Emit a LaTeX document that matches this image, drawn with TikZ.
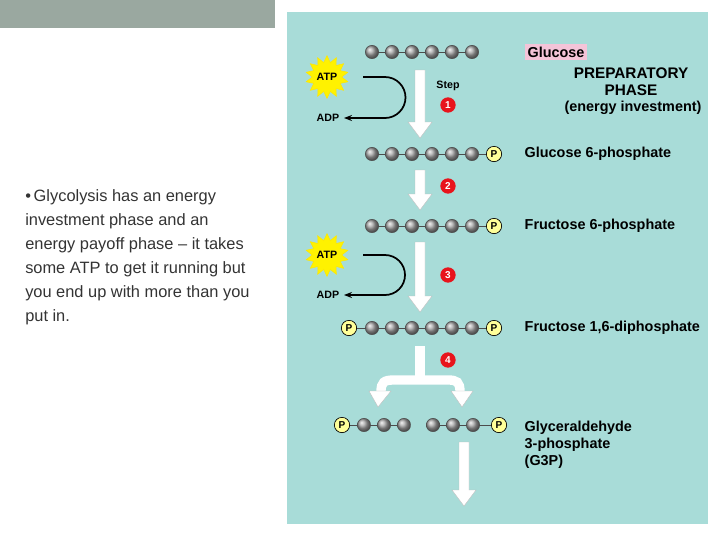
\documentclass[tikz,border=0pt]{standalone}
\usepackage{fontspec}
\setmainfont{Liberation Sans}
\usetikzlibrary{shapes.geometric,arrows.meta}
\definecolor{panel}{HTML}{A8DCD8}
\definecolor{topbar}{HTML}{9AA8A0}
\definecolor{pyel}{HTML}{FFFF99}
\definecolor{sred}{HTML}{E8141C}
\definecolor{pinkl}{HTML}{F4C4D8}
\definecolor{txt}{HTML}{333333}
\tikzset{
 ball/.style={circle,draw=black!70,line width=0.4pt,inner sep=0,minimum size=10pt,shading=ball,ball color=gray!70},
 phos/.style={circle,draw=black,line width=0.5pt,fill=pyel,inner sep=0,minimum size=11.5pt,font=\bfseries\fontsize{7.5}{7.5}\selectfont},
 lab/.style={anchor=west,font=\bfseries\fontsize{10.8}{13}\selectfont},
 stepnum/.style={circle,fill=sred,text=white,inner sep=0,minimum size=11.5pt,font=\bfseries\fontsize{7.5}{7.5}\selectfont},
 atp/.style={star,star points=14,star point ratio=1.45,fill=yellow,draw=yellow!90!orange,minimum size=32pt,inner sep=0,font=\bfseries\fontsize{8}{8}\selectfont},
 small/.style={font=\bfseries\fontsize{8}{8}\selectfont},
 link/.style={black!70,line width=0.5pt},
 warr/.style={fill=white,draw=black!25,line width=0.3pt},
}
\newcommand{\warrow}[3]{%
 \fill[warr] (#1-5,#2) -- (#1+5,#2) -- (#1+5,#3-16) -- (#1+12,#3-16) -- (#1,#3) -- (#1-12,#3-16) -- (#1-5,#3-16) -- cycle;}
\begin{document}
\begin{tikzpicture}[x=0.75pt,y=-0.75pt]
\useasboundingbox (0,0) rectangle (720,540);
\fill[topbar] (0,0) rectangle (275,28);
\fill[panel] (287,12) rectangle (708,524);
\node[anchor=north west,text=txt,font=\fontsize{12.3}{18}\selectfont,align=left,inner sep=0] (txt) at (25,189)
 {\textbullet\,Glycolysis has an energy\\investment phase and an\\energy payoff phase -- it takes\\some ATP to get it running but\\you end up with more than you\\put in.};
% arrows
\warrow{420}{70}{138}
\warrow{420}{170}{210}
\warrow{420}{242}{312}
\warrow{464}{442}{506}
\fill[white] (415,346) rectangle (425,380);
\draw[white,line width=7pt] (381,392) .. controls (381,382) and (384,380) .. (394,380) -- (448,380) .. controls (457,380) and (460,382) .. (460,392);
\fill[warr] (369,391) -- (391,391) -- (378,407) -- cycle;
\fill[warr] (451,391) -- (473,391) -- (462,407) -- cycle;
% chain 1
\draw[link] (372,52) -- (472,52);
\foreach \i in {0,...,5} \node[ball] (g\i) at (372+20*\i,52) {};
\node[fill=pinkl,inner sep=2pt,font=\bfseries\fontsize{10.8}{13}\selectfont] (glc) at (556,52) {Glucose};
\node[align=center,font=\bfseries\fontsize{11.5}{13}\selectfont] (prep) at (631,82) {PREPARATORY\\PHASE};
\node[font=\bfseries\fontsize{10.8}{13}\selectfont] (inv) at (633,108) {(energy investment)};
% chain 2
\draw[link] (372,154) -- (494,154);
\foreach \i in {0,...,5} \node[ball] (a\i) at (372+20*\i,154) {};
\node[phos] (ap) at (494,154) {P};
\node[lab] (l2) at (520,154) {Glucose 6-phosphate};
% chain 3
\draw[link] (372,226) -- (494,226);
\foreach \i in {0,...,5} \node[ball] (b\i) at (372+20*\i,226) {};
\node[phos] (bp) at (494,226) {P};
\node[lab] (l3) at (520,226) {Fructose 6-phosphate};
% chain 4
\draw[link] (349,328) -- (494,328);
\node[phos] (cp0) at (349,328) {P};
\foreach \i in {0,...,5} \node[ball] (c\i) at (372+20*\i,328) {};
\node[phos] (cp) at (494,328) {P};
\node[lab] (l4) at (520,328) {Fructose 1,6-diphosphate};
% chain 5
\draw[link] (342,425) -- (403,425);
\node[phos] (dp0) at (342,425) {P};
\foreach \i in {0,1,2} \node[ball] (d\i) at (364+20*\i,425) {};
\draw[link] (433,425) -- (499,425);
\foreach \i in {0,1,2} \node[ball] (e\i) at (433+20*\i,425) {};
\node[phos] (ep) at (499,425) {P};
\node[lab,align=left,anchor=north west] (l5) at (520,416) {Glyceraldehyde\\3-phosphate\\(G3P)};
% steps
\node[small] (steplab) at (448,86) {Step};
\node[stepnum] (s1) at (448,105) {1};
\node[stepnum] (s2) at (448,186) {2};
\node[stepnum] (s3) at (448,275) {3};
\node[stepnum] (s4) at (448,360) {4};
% ATP/ADP
\node[atp] (atp1) at (327,77) {ATP};
\node[small] (adp1) at (328,118) {ADP};
\coordinate (st1) at (363,77);
\draw[line width=1.3pt,-{Stealth[length=6pt]}] (st1) -- (385,77) arc (-90:90:20.5) -- (adp1.east);
\node[atp] (atp2) at (327,255) {ATP};
\node[small] (adp2) at (328,295) {ADP};
\coordinate (st2) at (363,255);
\draw[line width=1.3pt,-{Stealth[length=6pt]}] (st2) -- (385,255) arc (-90:90:20) -- (adp2.east);
\end{tikzpicture}
\end{document}
